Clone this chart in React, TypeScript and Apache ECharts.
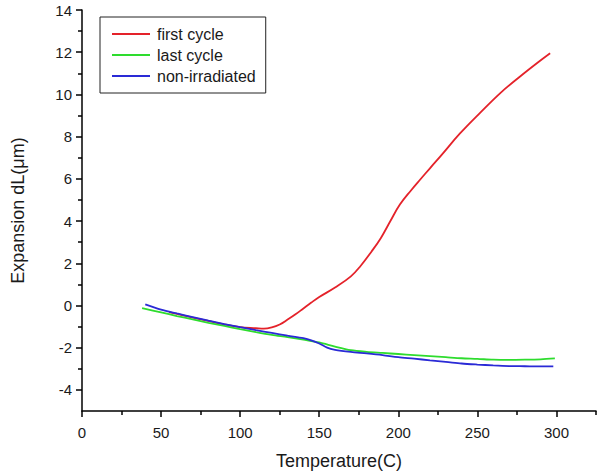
import React, { useEffect, useRef } from "react";
import * as echarts from "echarts";

// ---- data ----
const FIRST_X = [55, 70, 85, 100, 110, 115, 120, 125, 130, 135, 140, 145, 150, 160, 170, 176, 183, 189, 195, 201, 208, 214, 220, 227, 239, 252, 265, 277, 288, 296];
const FIRST_Y = [-0.32, -0.58, -0.82, -1.03, -1.08, -1.1, -1.04, -0.9, -0.67, -0.42, -0.14, 0.14, 0.4, 0.85, 1.38, 1.86, 2.55, 3.2, 4.0, 4.78, 5.45, 5.98, 6.5, 7.1, 8.15, 9.15, 10.1, 10.85, 11.5, 11.95];

const LAST_X = [38, 50, 60, 70, 80, 90, 100, 110, 120, 130, 140, 150, 160, 170, 180, 190, 200, 210, 220, 230, 240, 250, 260, 270, 280, 290, 299];
const LAST_Y = [-0.13, -0.33, -0.5, -0.66, -0.82, -0.97, -1.12, -1.26, -1.39, -1.5, -1.62, -1.75, -1.95, -2.12, -2.2, -2.25, -2.3, -2.35, -2.4, -2.45, -2.5, -2.53, -2.57, -2.58, -2.57, -2.55, -2.51];

const NON_X = [40, 50, 60, 70, 80, 90, 100, 110, 120, 130, 140, 145, 150, 155, 160, 170, 180, 190, 200, 210, 220, 230, 240, 250, 260, 270, 280, 290, 298];
const NON_Y = [0.05, -0.2, -0.38, -0.55, -0.72, -0.88, -1.03, -1.17, -1.3, -1.43, -1.55, -1.65, -1.8, -2.0, -2.1, -2.2, -2.27, -2.35, -2.45, -2.52, -2.6, -2.67, -2.75, -2.8, -2.84, -2.87, -2.88, -2.89, -2.89];

const SERIES_NAMES = ["first cycle", "last cycle", "non-irradiated"];

const X_TICKS = [0, 50, 100, 150, 200, 250, 300];
const X_MINOR = [25, 75, 125, 175, 225, 275, 325];
const Y_TICKS = [-4, -2, 0, 2, 4, 6, 8, 10, 12, 14];
const Y_MINOR = [-3, -1, 1, 3, 5, 7, 9, 11, 13];

const zip = (xs: number[], ys: number[]) => xs.map((x, i) => [x, ys[i]]);

const FONT = "Liberation Sans, Arial, sans-serif";

export default function App() {
  const ref = useRef<HTMLDivElement>(null);

  useEffect(() => {
    document.body.style.margin = "0";
    if (!ref.current) return;
    const chart = echarts.init(ref.current, undefined, { renderer: "svg" });

    const axisLineStyle = { color: "#000", width: 1.5 };
    const tickStyle = { color: "#000", width: 1.5 };

    chart.setOption({
      animation: false,
      backgroundColor: "#fff",
      textStyle: { fontFamily: FONT },
      grid: { left: 82, right: 2, top: 10, bottom: 63, containLabel: false, outerBoundsMode: "none" },
      legend: {
        orient: "vertical",
        left: 100,
        top: 17,
        padding: [9, 10, 9, 12],
        icon: "rect",
        itemWidth: 38,
        itemHeight: 2,
        itemGap: 5,
        borderColor: "#222",
        borderWidth: 1,
        borderRadius: 0,
        textStyle: { fontSize: 16, lineHeight: 16, color: "#1a1a1a", fontFamily: FONT, padding: [0, 0, 0, 2] },
        data: SERIES_NAMES,
      },
      xAxis: [
        {
          type: "value",
          min: 0,
          max: 325,
          position: "bottom",
          name: "Temperature(C)",
          nameLocation: "middle",
          nameGap: 41,
          nameTextStyle: { fontSize: 18, color: "#1a1a1a", fontFamily: FONT },
          axisLine: { show: true, onZero: false, lineStyle: axisLineStyle },
          axisTick: { show: true, inside: false, length: 6, customValues: X_TICKS, lineStyle: tickStyle },
          axisLabel: { customValues: X_TICKS, margin: 14, fontSize: 15, color: "#1a1a1a", fontFamily: FONT },
          splitLine: { show: false },
        },
        {
          type: "value",
          min: 0,
          max: 325,
          position: "bottom",
          axisLine: { show: false, onZero: false },
          axisTick: { show: true, inside: false, length: 4, customValues: X_MINOR, lineStyle: tickStyle },
          axisLabel: { show: false },
          splitLine: { show: false },
        },
      ],
      yAxis: [
        {
          type: "value",
          min: -5,
          max: 14,
          position: "left",
          name: "Expansion dL(\u03bcm)",
          nameLocation: "middle",
          nameGap: 55,
          nameRotate: 90,
          nameTextStyle: { fontSize: 18, color: "#1a1a1a", fontFamily: FONT },
          axisLine: { show: true, onZero: false, lineStyle: axisLineStyle },
          axisTick: { show: true, inside: false, length: 6, customValues: Y_TICKS, lineStyle: tickStyle },
          axisLabel: { customValues: Y_TICKS, margin: 10, fontSize: 15, color: "#1a1a1a", fontFamily: FONT },
          splitLine: { show: false },
        },
        {
          type: "value",
          min: -5,
          max: 14,
          position: "left",
          axisLine: { show: false, onZero: false },
          axisTick: { show: true, inside: false, length: 4, customValues: Y_MINOR, lineStyle: tickStyle },
          axisLabel: { show: false },
          splitLine: { show: false },
        },
      ],
      series: [
        {
          name: SERIES_NAMES[0],
          type: "line",
          xAxisIndex: 0,
          yAxisIndex: 0,
          data: zip(FIRST_X, FIRST_Y),
          symbol: "none",
          smooth: 0.4,
          lineStyle: { color: "#e4222a", width: 1.8 },
          itemStyle: { color: "#e4222a" },
        },
        {
          name: SERIES_NAMES[1],
          type: "line",
          xAxisIndex: 0,
          yAxisIndex: 0,
          data: zip(LAST_X, LAST_Y),
          symbol: "none",
          smooth: 0.3,
          lineStyle: { color: "#2edc2e", width: 1.8 },
          itemStyle: { color: "#2edc2e" },
        },
        {
          name: SERIES_NAMES[2],
          type: "line",
          xAxisIndex: 0,
          yAxisIndex: 0,
          data: zip(NON_X, NON_Y),
          symbol: "none",
          smooth: 0.3,
          lineStyle: { color: "#2a2ad6", width: 1.8 },
          itemStyle: { color: "#2a2ad6" },
        },
      ],
    });

    return () => chart.dispose();
  }, []);

  return <div ref={ref} style={{ width: 598, height: 474 }} />;
}
